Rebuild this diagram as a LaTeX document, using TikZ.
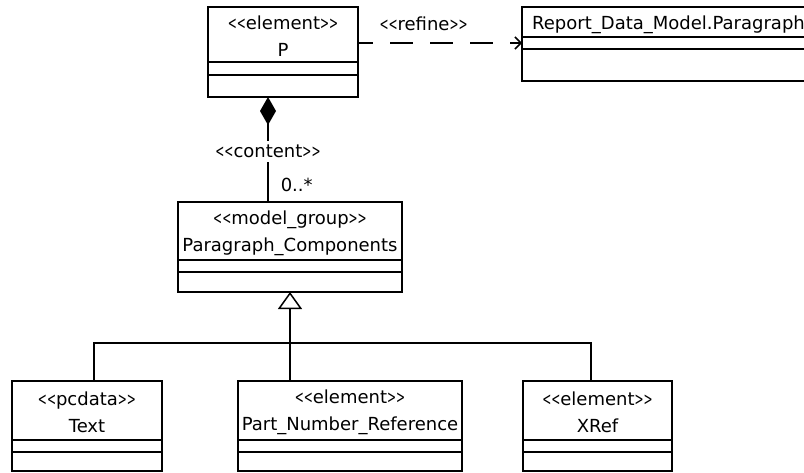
\documentclass[tikz,border=0pt]{standalone}
\usepackage{fontspec}
\setmainfont{DejaVu Sans}
\newfontfamily\narrowfont{DejaVu Sans}[FakeStretch=0.6]
\usetikzlibrary{arrows.meta,positioning,calc}
\newcommand{\stereo}[1]{{\narrowfont<\kern0pt<}#1{\narrowfont>\kern0pt>}}

\begin{document}
\begin{tikzpicture}[x=1pt,y=-1pt,font=\fontsize{18}{27}\selectfont,
  cls/.style={draw,line width=1.5pt,inner sep=0pt,outer sep=0pt},
  head/.style={cls,anchor=north west},
  title/.style={inner sep=0pt,align=center},
  comp/.style={cls,below=0pt of #1},
  link/.style={line width=1.5pt}]
  \useasboundingbox (0,0) rectangle (804,472);
  \clip (0,0) rectangle (804,472);
  % classes
  \node[head,minimum width=150pt,minimum height=55pt] (pHead) at (208,7) {};
  \node[comp=pHead,minimum width=150pt,minimum height=13pt] (pAttr) {};
  \node[comp=pAttr,minimum width=150pt,minimum height=22pt] (pOps) {};
  \node[title] (pName) at ([yshift=-2pt]pHead.center) {\stereo{element}\\P};
  \node[head,minimum width=300pt,minimum height=30pt] (repHead) at (522,7) {};
  \node[comp=repHead,minimum width=300pt,minimum height=12pt] (repAttr) {};
  \node[comp=repAttr,minimum width=300pt,minimum height=32pt] (repOps) {};
  \node[title,anchor=west] (repName) at ([xshift=10pt,yshift=-3pt]repHead.west) {Report\_Data\_Model.Paragraph};
  \node[head,minimum width=224pt,minimum height=58pt] (pcHead) at (178,202) {};
  \node[comp=pcHead,minimum width=224pt,minimum height=12pt] (pcAttr) {};
  \node[comp=pcAttr,minimum width=224pt,minimum height=20pt] (pcOps) {};
  \node[title] (pcName) at ([yshift=-2pt]pcHead.center) {\stereo{model\_group}\\Paragraph\_Components};
  \node[head,minimum width=150pt,minimum height=59pt] (textHead) at (12,381) {};
  \node[comp=textHead,minimum width=150pt,minimum height=12pt] (textAttr) {};
  \node[comp=textAttr,minimum width=150pt,minimum height=19pt] (textOps) {};
  \node[title] (textName) at ([yshift=-2pt]textHead.center) {\stereo{pcdata}\\Text};
  \node[head,minimum width=224pt,minimum height=59pt] (pnrHead) at (238,381) {};
  \node[comp=pnrHead,minimum width=224pt,minimum height=12pt] (pnrAttr) {};
  \node[comp=pnrAttr,minimum width=224pt,minimum height=19pt] (pnrOps) {};
  \node[title] (pnrName) at ([yshift=-2pt]pnrHead.center) {\stereo{element}\\Part\_Number\_Reference};
  \node[head,minimum width=149pt,minimum height=59pt] (xrefHead) at (523,381) {};
  \node[comp=xrefHead,minimum width=149pt,minimum height=12pt] (xrefAttr) {};
  \node[comp=xrefAttr,minimum width=149pt,minimum height=19pt] (xrefOps) {};
  \node[title] (xrefName) at ([yshift=-2pt]xrefHead.center) {\stereo{element}\\XRef};
  % links
  \draw[link,dash pattern=on 23pt off 17pt,dash phase=8pt,-{Straight Barb[length=6pt,width=12pt]}]
    (pHead.east |- repAttr.west) -- (repAttr.west)
    node[pos=0.4,above=11pt,inner sep=0pt] (refineLbl) {\stereo{refine}};
  \draw[link,{Diamond[length=28pt,width=16pt]}-]
    ([xshift=-15pt]pOps.south) -- ([xshift=-15pt]pOps.south |- pcHead.north)
    node[pos=0.52,fill=white,inner sep=4pt] (contentLbl) {\stereo{content}}
    node[pos=0.84,anchor=west,xshift=12pt,inner sep=0pt] (multLbl) {0..*};
  \coordinate (bus) at ($(pcOps.south)+(0,51)$);
  \draw[link,-{Triangle[open,length=17pt,width=24pt,fill=white]}] (bus) -- (pcOps.south);
  \draw[link] ([xshift=7pt]textHead.north) |- (bus) -| ([xshift=-6.5pt]xrefHead.north);
  \draw[link] (bus) -- (bus |- pnrHead.north);
\end{tikzpicture}
\end{document}
